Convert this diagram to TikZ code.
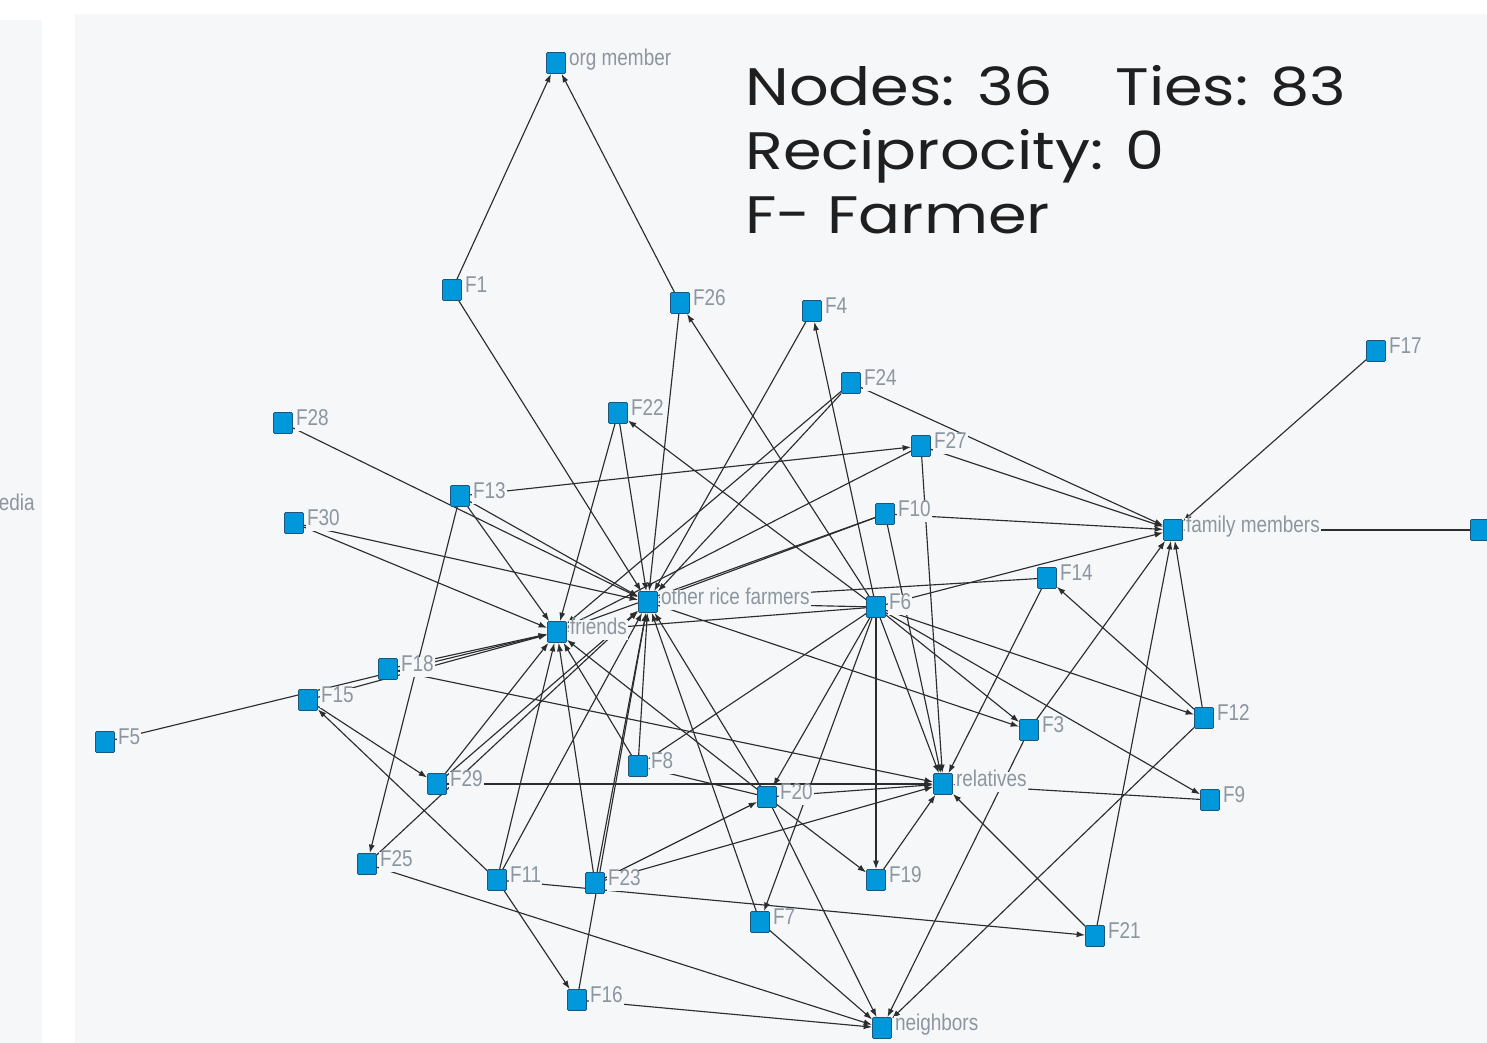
\documentclass[tikz,border=0pt]{standalone}
\usepackage{fontspec}
\newfontfamily\labelfont[FakeStretch=0.83]{Liberation Sans}
\newfontfamily\titlefont[FakeStretch=1.18]{Poppins}
\usetikzlibrary{arrows.meta,positioning,backgrounds}

\definecolor{panel}{RGB}{245,247,249}
\definecolor{nodeblue}{RGB}{0,152,218}
\definecolor{nodeedge}{RGB}{30,85,125}
\definecolor{labelgray}{RGB}{140,150,160}
\definecolor{tiecolor}{RGB}{45,45,45}

\begin{document}
\begin{tikzpicture}[x=0.02cm,y=-0.02cm,>={Latex[length=1.7mm,width=1.2mm]}]
	\tikzstyle{actor} = [draw=nodeedge, fill=nodeblue, rectangle, rounded corners=0.6pt, minimum width=0.38cm, minimum height=0.42cm, inner sep=0pt, line width=0.4pt]
	\tikzstyle{lbl} = [text=labelgray, fill=panel, inner sep=0.6pt, label distance=1pt, yshift=0.04cm, text height=0.75em, text depth=0.22em, font=\labelfont\fontsize{13pt}{13pt}\selectfont]
	\tikzstyle{tie} = [->, draw=tiecolor, line width=0.65pt]
	\tikzstyle{title} = [anchor=base west, inner sep=0pt, text=black!88, font=\titlefont\fontsize{30pt}{30pt}\selectfont]
	
	\useasboundingbox (0,0) rectangle (1487,1043);
	
	% sources of advice
	\node [actor, label={[lbl]0:org member}] (org) at (556,63) {};
	\node [actor, label={[lbl]0:other rice farmers}] (orf) at (648,602) {};
	\node [actor, label={[lbl]0:friends}] (friends) at (557,632) {};
	\node [actor, label={[lbl]0:family members}] (fam) at (1173,530) {};
	\node [actor, label={[lbl]0:relatives}] (rel) at (943,784) {};
	\node [actor, label={[lbl]0:neighbors}] (neigh) at (882,1028) {};
	\node [actor] (media) at (1480,530) {};
	
	% farmers
	\node [actor, label={[lbl]0:F1}] (f1) at (452,290) {};
	\node [actor, label={[lbl]0:F26}] (f26) at (680,303) {};
	\node [actor, label={[lbl]0:F4}] (f4) at (812,311) {};
	\node [actor, label={[lbl]0:F24}] (f24) at (851,383) {};
	\node [actor, label={[lbl]0:F22}] (f22) at (618,413) {};
	\node [actor, label={[lbl]0:F28}] (f28) at (283,423) {};
	\node [actor, label={[lbl]0:F27}] (f27) at (921,446) {};
	\node [actor, label={[lbl]0:F13}] (f13) at (460,496) {};
	\node [actor, label={[lbl]0:F10}] (f10) at (885,514) {};
	\node [actor, label={[lbl]0:F30}] (f30) at (294,523) {};
	\node [actor, label={[lbl]0:F17}] (f17) at (1376,351) {};
	\node [actor, label={[lbl]0:F14}] (f14) at (1047,578) {};
	\node [actor, label={[lbl]0:F6}] (f6) at (876,607) {};
	\node [actor, label={[lbl]0:F18}] (f18) at (388,669) {};
	\node [actor, label={[lbl]0:F15}] (f15) at (308,700) {};
	\node [actor, label={[lbl]0:F5}] (f5) at (105,742) {};
	\node [actor, label={[lbl]0:F12}] (f12) at (1204,718) {};
	\node [actor, label={[lbl]0:F3}] (f3) at (1029,730) {};
	\node [actor, label={[lbl]0:F8}] (f8) at (638,766) {};
	\node [actor, label={[lbl]0:F29}] (f29) at (437,784) {};
	\node [actor, label={[lbl]0:F20}] (f20) at (767,797) {};
	\node [actor, label={[lbl]0:F9}] (f9) at (1210,800) {};
	\node [actor, label={[lbl]0:F25}] (f25) at (367,864) {};
	\node [actor, label={[lbl]0:F11}] (f11) at (497,880) {};
	\node [actor, label={[lbl]0:F23}] (f23) at (595,883) {};
	\node [actor, label={[lbl]0:F19}] (f19) at (876,880) {};
	\node [actor, label={[lbl]0:F7}] (f7) at (760,922) {};
	\node [actor, label={[lbl]0:F21}] (f21) at (1095,936) {};
	\node [actor, label={[lbl]0:F16}] (f16) at (577,1000) {};
	
	% cut off name from the left panel
	\node [lbl, anchor=east] (lefttext) at (36,508) {edia};
	
	% summary
	\node [title] (nodes) at (745,106) {Nodes: 36};
	\node [title] (ties) at (1115,106) {Ties: 83};
	\node [title] (recip) at (745,170) {Reciprocity: 0};
	\node [title] (legend) at (745,234) {F- Farmer};
	
	\begin{scope}[on background layer]
	\fill [white] (0,0) rectangle (1487,1043);
	\fill [panel] (0,20) rectangle (42,1043);
	\fill [panel] (75,14) rectangle (1487,1043);
	
	\draw [tie] (f1) -- (org);
	\draw [tie] (f26) -- (org);
	\draw [tie] (f1) -- (orf);
	\draw [tie] (f26) -- (orf);
	\draw [tie] (f6) -- (f26);
	\draw [tie] (f4) -- (orf);
	\draw [tie] (f6) -- (f4);
	\draw [tie] (f22) -- (friends);
	\draw [tie] (f22) -- (orf);
	\draw [tie] (f6) -- (f22);
	\draw [tie] (f24) -- (orf);
	\draw [tie] (f24) -- (friends);
	\draw [tie] (f24) -- (fam);
	\draw [tie] (f13) -- (f27);
	\draw [tie] (f27) -- (fam);
	\draw [tie] (f27) -- (rel);
	\draw [tie] (f27) -- (friends);
	\draw [tie] (f10) -- (fam);
	\draw [tie] (f10) -- (orf);
	\draw [tie] (f10) -- (friends);
	\draw [tie] (f10) -- (rel);
	\draw [tie] (f28) -- (orf);
	\draw [tie] (f30) -- (orf);
	\draw [tie] (f30) -- (friends);
	\draw [tie] (f13) -- (friends);
	\draw [tie] (f13) -- (orf);
	\draw [tie] (f13) -- (f25);
	\draw [tie] (f18) -- (friends);
	\draw [tie] (f15) -- (friends);
	\draw [tie] (f5) -- (friends);
	\draw [tie] (f11) -- (f15);
	\draw [tie] (f15) -- (f29);
	\draw [tie] (f18) -- (rel);
	\draw [tie] (f29) -- (friends);
	\draw [tie] (f29) -- (orf);
	\draw [tie] (f25) -- (orf);
	\draw [tie] (f29) -- (rel);
	\draw [tie] (f11) -- (friends);
	\draw [tie] (f11) -- (orf);
	\draw [tie] (f11) -- (f16);
	\draw [tie] (f11) -- (f21);
	\draw [tie] (f23) -- (friends);
	\draw [tie] (f23) -- (orf);
	\draw [tie] (f16) -- (orf);
	\draw [tie] (f23) -- (f20);
	\draw [tie] (f23) -- (rel);
	\draw [tie] (f8) -- (orf);
	\draw [tie] (f20) -- (f8);
	\draw [tie] (f6) -- (f8);
	\draw [tie] (f6) -- (orf);
	\draw [tie] (f14) -- (orf);
	\draw [tie] (f6) -- (fam);
	\draw [tie] (f12) -- (f14);
	\draw [tie] (f14) -- (rel);
	\draw [tie] (f17) -- (fam);
	\draw [tie] (media) -- (fam);
	\draw [tie] (f3) -- (fam);
	\draw [tie] (f21) -- (fam);
	\draw [tie] (f12) -- (fam);
	\draw [tie] (f6) -- (f12);
	\draw [tie] (f12) -- (neigh);
	\draw [tie] (orf) -- (f3);
	\draw [tie] (f6) -- (f3);
	\draw [tie] (f6) -- (f9);
	\draw [tie] (f3) -- (neigh);
	\draw [tie] (f6) -- (rel);
	\draw [tie] (f6) -- (f19);
	\draw [tie] (f19) -- (rel);
	\draw [tie] (f20) -- (f19);
	\draw [tie] (f6) -- (f20);
	\draw [tie] (f20) -- (rel);
	\draw [tie] (f6) -- (f7);
	\draw [tie] (f20) -- (neigh);
	\draw [tie] (f7) -- (neigh);
	\draw [tie] (f16) -- (neigh);
	\draw [tie] (f25) -- (neigh);
	\draw [tie] (f21) -- (rel);
	\draw [tie] (f9) -- (rel);
	\draw [tie] (f6) -- (friends);
	\draw [tie] (f7) -- (orf);
	\draw [tie] (f20) -- (orf);
	\draw [tie] (f20) -- (friends);
	\draw [tie] (f8) -- (friends);
	\end{scope}
\end{tikzpicture}
\end{document}
